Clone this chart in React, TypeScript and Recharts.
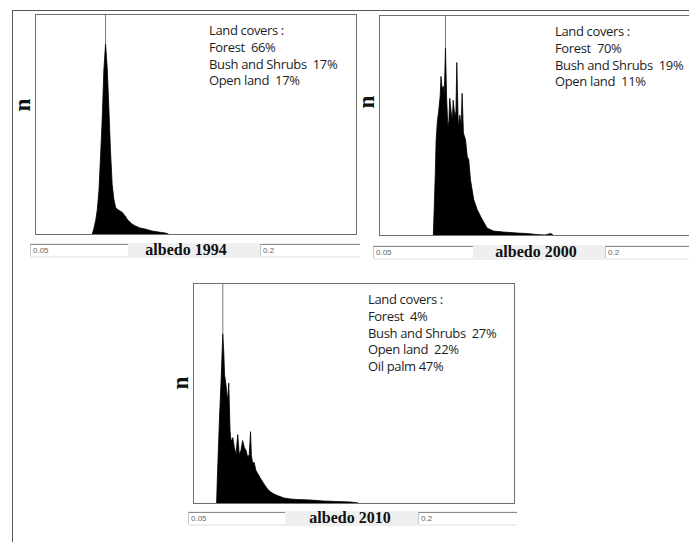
import { AreaChart, Area, XAxis, YAxis, ReferenceLine } from "recharts";

// albedo histograms (n in relative units)
const albedo1994 = [0.0764, 0.0772, 0.078, 0.0787, 0.0795, 0.0803, 0.0811, 0.0818, 0.0826, 0.0834, 0.0841, 0.0849, 0.0857, 0.0865, 0.0873, 0.0881, 0.0888, 0.0896, 0.0904, 0.0911, 0.0919, 0.0927, 0.0935, 0.095, 0.0966, 0.0989, 0.1012, 0.1044, 0.1074, 0.1106, 0.1121];
const n1994 = [0, 6, 14, 24, 44, 80, 120, 165, 192, 167, 130, 85, 50, 35, 27, 25, 24, 23, 22, 20, 18, 15, 13, 10, 8, 6, 5, 3, 2, 1, 0];

const albedo2000 = [0.075, 0.0753, 0.0759, 0.0763, 0.0769, 0.0775, 0.0782, 0.0786, 0.0791, 0.0797, 0.0801, 0.0807, 0.0812, 0.0818, 0.0823, 0.0827, 0.0834, 0.0839, 0.0843, 0.0851, 0.0856, 0.086, 0.0867, 0.0874, 0.088, 0.0885, 0.0891, 0.0901, 0.0909, 0.0916, 0.0924, 0.0939, 0.0955, 0.0971, 0.0986, 0.1002, 0.1032, 0.1079, 0.1141, 0.1188, 0.1235, 0.1273, 0.1301, 0.1311];
const n2000 = [0, 20, 60, 95, 115, 125, 140, 160, 148, 150, 140, 189, 140, 109, 115, 138, 123, 115, 136, 119, 125, 174, 109, 121, 110, 143, 103, 96, 79, 76, 56, 36, 26, 19, 13, 7, 4, 3, 2, 1.5, 0.5, 0, 1.5, 0];

const albedo2010 = [0.0606, 0.0609, 0.0619, 0.0627, 0.0635, 0.064, 0.0643, 0.065, 0.0658, 0.0663, 0.0669, 0.0674, 0.0682, 0.0689, 0.0697, 0.0705, 0.0712, 0.072, 0.0728, 0.0736, 0.0744, 0.0752, 0.0759, 0.0765, 0.0769, 0.0775, 0.0782, 0.079, 0.0798, 0.0814, 0.0829, 0.0845, 0.086, 0.0875, 0.0891, 0.0922, 0.0953, 0.0984, 0.1046, 0.1108, 0.1171, 0.1233, 0.1271];
const n2010 = [0, 23, 83, 124, 171, 150, 130, 119, 103, 121, 73, 62, 66, 56, 49, 69, 49, 53, 63, 56, 53, 46, 49, 72, 48, 40, 41, 33, 30, 24, 19, 14, 11, 9, 7.5, 5, 4, 3.5, 3, 2, 1.5, 1, 0];

const cover1994 = ["Land covers :", "Forest  66%", "Bush and Shrubs  17%", "Open land  17%"];
const cover2000 = ["Land covers :", "Forest  70%", "Bush and Shrubs  19%", "Open land  11%"];
const cover2010 = ["Land covers :", "Forest  4%", "Bush and Shrubs  27%", "Open land  22%", "Oil palm 47%"];

const rangeLabels = ["0.05", "0.2"];

const X_DOMAIN: [number, number] = [0.05, 0.2];
const Y_MAX = 221;

function Histogram({ albedo, counts }: { albedo: number[]; counts: number[] }) {
  const data = albedo.map((a, i) => ({ a, n: counts[i] }));
  const peak = data.reduce((p, d) => (d.n > p.n ? d : p), data[0]);
  return (
    <AreaChart width={320} height={219} data={data} margin={{ top: 0, right: 0, bottom: 0, left: 0 }}>
      <XAxis dataKey="a" type="number" domain={X_DOMAIN} hide allowDataOverflow />
      <YAxis type="number" domain={[0, Y_MAX]} hide allowDataOverflow />
      <ReferenceLine
        segment={[
          { x: peak.a, y: peak.n },
          { x: peak.a, y: Y_MAX },
        ]}
        stroke="#7a7a7a"
        strokeWidth={1}
      />
      <Area
        dataKey="n"
        type="linear"
        stroke="#000"
        strokeWidth={0.8}
        fill="#000"
        fillOpacity={1}
        isAnimationActive={false}
      />
    </AreaChart>
  );
}

function Panel({
  left,
  top,
  albedo,
  counts,
  covers,
  year,
  textX,
  nY,
  bottom,
}: {
  left: number;
  top: number;
  albedo: number[];
  counts: number[];
  covers: string[];
  year: string;
  textX: number;
  nY: number;
  bottom: { minL: number; minW: number; maxL: number; maxW: number; titleX: number; y: number };
}) {
  return (
    <>
      <div
        style={{
          position: "absolute",
          left,
          top,
          width: 322,
          height: 221,
          border: "1px solid #6e6e6e",
          boxSizing: "border-box",
          background: "#fff",
        }}
      >
        <Histogram albedo={albedo} counts={counts} />
      </div>
      <div
        style={{
          position: "absolute",
          left: textX,
          top: top + 8,
          fontFamily: "'Open Sans', sans-serif",
          fontSize: 13,
          letterSpacing: -0.35,
          lineHeight: "16.8px",
          color: "#1e1e1e",
          whiteSpace: "pre",
        }}
      >
        {covers.map((c) => (
          <div key={c}>{c}</div>
        ))}
      </div>
      <div
        style={{
          position: "absolute",
          left: left - 24,
          top: nY - 12,
          width: 24,
          height: 24,
          fontFamily: "'Liberation Serif', serif",
          fontWeight: "bold",
          fontSize: 23,
          lineHeight: "24px",
          textAlign: "center",
          transform: "rotate(-90deg)",
          color: "#111",
        }}
      >
        n
      </div>
      <div
        style={{
          position: "absolute",
          left: bottom.minL,
          top: bottom.y,
          width: bottom.maxL + bottom.maxW - bottom.minL,
          height: 15,
          background: "#efefef",
        }}
      />
      {[0, 1].map((k) => (
        <div
          key={k}
          style={{
            position: "absolute",
            left: k === 0 ? bottom.minL : bottom.maxL,
            top: bottom.y + 1,
            width: k === 0 ? bottom.minW : bottom.maxW,
            height: 12,
            background: "#fff",
            borderTop: "1px solid #8a8a8a",
            borderLeft: "1px solid #c8c8c8",
            boxSizing: "border-box",
            fontFamily: "'Liberation Sans', sans-serif",
            fontSize: 8,
            lineHeight: "11px",
            color: "#666",
            paddingLeft: 2,
          }}
        >
          {rangeLabels[k]}
        </div>
      ))}
      <div
        style={{
          position: "absolute",
          left: bottom.titleX - 60,
          top: bottom.y - 2,
          width: 120,
          textAlign: "center",
          fontFamily: "'Liberation Serif', serif",
          fontWeight: "bold",
          fontSize: 16,
          lineHeight: "18px",
          color: "#111",
        }}
      >
        {year}
      </div>
    </>
  );
}

export default function App() {
  return (
    <div
      style={{
        position: "absolute",
        left: 0,
        top: 0,
        width: 689,
        height: 542,
        overflow: "hidden",
        background: "#fff",
      }}
    >
      <div style={{ position: "absolute", left: 12, top: 10, width: 677, height: 1, background: "#555" }} />
      <div style={{ position: "absolute", left: 12, top: 10, width: 1, height: 532, background: "#555" }} />
      <Panel
        left={35}
        top={14}
        albedo={albedo1994}
        counts={n1994}
        covers={cover1994}
        year="albedo 1994"
        textX={209}
        nY={105}
        bottom={{ minL: 30, minW: 98, maxL: 260, maxW: 100, titleX: 186, y: 243 }}
      />
      <Panel
        left={379}
        top={15}
        albedo={albedo2000}
        counts={n2000}
        covers={cover2000}
        year="albedo 2000"
        textX={555}
        nY={102}
        bottom={{ minL: 373, minW: 100, maxL: 605, maxW: 100, titleX: 536, y: 245 }}
      />
      <Panel
        left={193}
        top={283}
        albedo={albedo2010}
        counts={n2010}
        covers={cover2010}
        year="albedo 2010"
        textX={368}
        nY={383}
        bottom={{ minL: 188, minW: 97, maxL: 418, maxW: 99, titleX: 350, y: 511 }}
      />
    </div>
  );
}
